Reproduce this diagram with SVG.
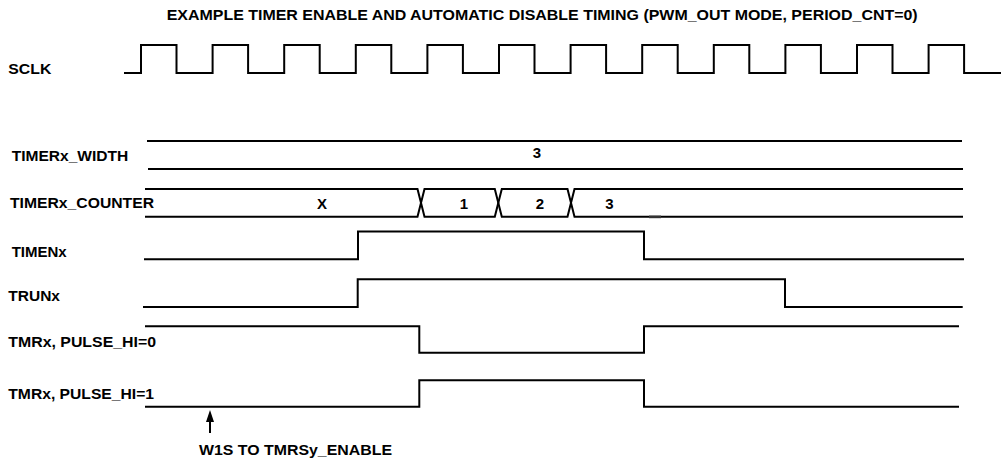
<svg xmlns="http://www.w3.org/2000/svg" width="1003" height="462" viewBox="0 0 1003 462">
<defs>
<style>
.sig{fill:none;stroke:#000;stroke-width:2;stroke-linejoin:miter;stroke-linecap:butt}
.lbl{font-family:"Liberation Sans",Arial,Helvetica,sans-serif;font-weight:bold;font-size:15px;fill:#000}
.val{font-family:"Liberation Sans",Arial,Helvetica,sans-serif;font-weight:bold;font-size:15px;fill:#000;text-anchor:middle}
</style>
<marker id="ah" viewBox="0 0 12 8" refX="1" refY="4" markerWidth="12" markerHeight="8" markerUnits="userSpaceOnUse" orient="auto">
<path d="M0,0 L12,4 L0,8 Z" fill="#000"/>
</marker>
</defs>
<rect width="1003" height="462" fill="#fff"/>
<g id="title">
<text class="lbl" x="166.7" y="20" textLength="751" lengthAdjust="spacingAndGlyphs">EXAMPLE TIMER ENABLE AND AUTOMATIC DISABLE TIMING (PWM_OUT MODE, PERIOD_CNT=0)</text>
</g>
<g id="sclk">
<text class="lbl" x="8.3" y="74" textLength="43" lengthAdjust="spacingAndGlyphs">SCLK</text>
<path class="sig" d="M124,73 H141 V45 H176.5 V73 H212.6 V45 H248.1 V73 H284.2 V45 H319.7 V73 H355.8 V45 H391.3 V73 H427.4 V45 H462.9 V73 H499 V45 H534.5 V73 H570.6 V45 H606.1 V73 H642.2 V45 H677.7 V73 H713.8 V45 H749.3 V73 H785.4 V45 H820.9 V73 H857 V45 H892.5 V73 H928.6 V45 H964.1 V73 H1001"/>
</g>
<g id="timerx_width">
<text class="lbl" x="11.7" y="160.7" textLength="116.6" lengthAdjust="spacingAndGlyphs">TIMERx_WIDTH</text>
<path class="sig" d="M147,141 H962 M148,169 H963"/>
<text class="val" x="537" y="158.3">3</text>
</g>
<g id="timerx_counter">
<text class="lbl" x="10" y="208.3" textLength="144" lengthAdjust="spacingAndGlyphs">TIMERx_COUNTER</text>
<path class="sig" d="M145,189 H417.5 L424.5,216.7 H494.8 L501.8,189 H567.5 L574.5,216.7 H963"/>
<path class="sig" d="M145,216.7 H417.5 L424.5,189 H494.8 L501.8,216.7 H567.5 L574.5,189 H963"/>
<line x1="649" y1="216.9" x2="661" y2="216.9" stroke="#333" stroke-width="2.6"/>
<text class="val" x="322" y="209">X</text>
<text class="val" x="464" y="209">1</text>
<text class="val" x="540" y="209">2</text>
<text class="val" x="609.5" y="209">3</text>
</g>
<g id="timenx">
<text class="lbl" x="11.7" y="256.7" textLength="55" lengthAdjust="spacingAndGlyphs">TIMENx</text>
<path class="sig" d="M144,259.3 H358 V231.5 H644 V259.3 H964"/>
</g>
<g id="trunx">
<text class="lbl" x="8.3" y="300.7" textLength="51.7" lengthAdjust="spacingAndGlyphs">TRUNx</text>
<path class="sig" d="M143,307 H357.7 V279.3 H785 V307 H962.7"/>
</g>
<g id="tmrx_pulse_hi_0">
<text class="lbl" x="8.3" y="346.5" textLength="147.7" lengthAdjust="spacingAndGlyphs">TMRx, PULSE_HI=0</text>
<path class="sig" d="M145,326.3 H419.3 V352.7 H644 V326.3 H959"/>
</g>
<g id="tmrx_pulse_hi_1">
<text class="lbl" x="8.3" y="399.3" textLength="145.7" lengthAdjust="spacingAndGlyphs">TMRx, PULSE_HI=1</text>
<path class="sig" d="M145,406.7 H419.3 V380.3 H644 V406.7 H959"/>
</g>
<g id="w1s_note">
<text class="lbl" x="199" y="455" textLength="193" lengthAdjust="spacingAndGlyphs">W1S TO TMRSy_ENABLE</text>
</g>
<g id="connectors">
<line x1="210" y1="433" x2="210" y2="421" stroke="#000" stroke-width="2" marker-end="url(#ah)"/>
</g>
</svg>
